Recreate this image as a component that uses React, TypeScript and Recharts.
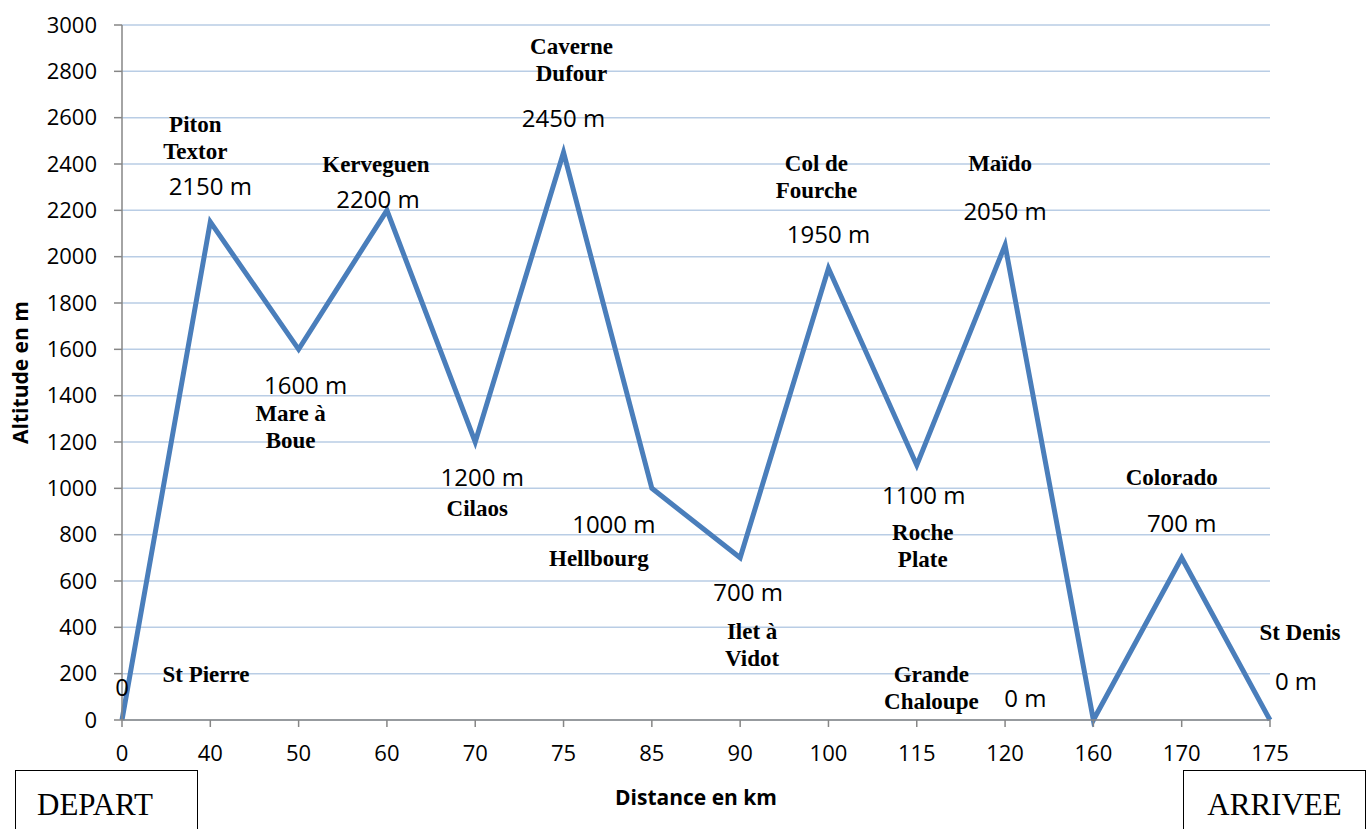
import React from "react";
import {
  LineChart,
  Line,
  XAxis,
  YAxis,
  CartesianGrid,
} from "recharts";

const distances = ["0", "40", "50", "60", "70", "75", "85", "90", "100", "115", "120", "160", "170", "175"];
const altitudes = [0, 2150, 1600, 2200, 1200, 2450, 1000, 700, 1950, 1100, 2050, 0, 700, 0];
const valueTexts = ["0", "2150 m", "1600 m", "2200 m", "1200 m", "2450 m", "1000 m", "700 m", "1950 m", "1100 m", "2050 m", "0 m", "700 m", "0 m"];
const placeNames = [
  ["St Pierre"],
  ["Piton", "Textor"],
  ["Mare à", "Boue"],
  ["Kerveguen"],
  ["Cilaos"],
  ["Caverne", "Dufour"],
  ["Hellbourg"],
  ["Ilet à", "Vidot"],
  ["Col de", "Fourche"],
  ["Roche", "Plate"],
  ["Maïdo"],
  ["Grande", "Chaloupe"],
  ["Colorado"],
  ["St Denis"],
];
const yTicks = [0, 200, 400, 600, 800, 1000, 1200, 1400, 1600, 1800, 2000, 2200, 2400, 2600, 2800, 3000];

// label offsets from each point: [value dx, value dy, name dx, name first line dy]
const labelOffsets = [
  [0, -34, 84, -46],
  [0, -36, -15, -97],
  [7, 35, -8, 64],
  [-9, -12, -11, -46],
  [7, 34, 2, 66],
  [0, -35, 8, -106],
  [-38, 35, -53, 70],
  [8, 34, 12, 74],
  [0, -35, -12, -105],
  [7, 29, 6, 67],
  [0, -35, -5, -82],
  [-68, -23, -162, -46],
  [0, -35, -10, -80],
  [26, -40, 30, -88],
];

const data = distances.map((d, i) => ({ distance: d, altitude: altitudes[i] }));

const sans = "'Open Sans', sans-serif";
const serif = "'Liberation Serif', 'Times New Roman', serif";

const PointLabel = (props: any) => {
  const { x, y, index } = props;
  const [vdx, vdy, ndx, ndy] = labelOffsets[index];
  const names = placeNames[index];
  return (
    <g>
      <text
        x={x + vdx}
        y={y + vdy}
        textAnchor="middle"
        dominantBaseline="central"
        style={{ fontFamily: sans, fontSize: 24, fill: "#000" }}
      >
        {valueTexts[index]}
      </text>
      {names.map((n, k) => (
        <text
          key={k}
          x={x + ndx}
          y={y + ndy + k * 27}
          textAnchor="middle"
          dominantBaseline="central"
          style={{ fontFamily: serif, fontSize: 23, fontWeight: "bold", fill: "#000" }}
        >
          {n}
        </text>
      ))}
    </g>
  );
};

const boxStyle: React.CSSProperties = {
  position: "absolute",
  top: 770,
  width: 183,
  height: 70,
  border: "1px solid #000",
  boxSizing: "border-box",
  fontFamily: serif,
  fontSize: 31,
  lineHeight: "34px",
  paddingTop: 17,
  background: "#fff",
};

export default function App() {
  return (
    <div style={{ position: "fixed", left: 0, top: 0, width: 1369, height: 829, overflow: "hidden", background: "#fff" }}>
      <LineChart width={1369} height={829} data={data} margin={{ top: 25, right: 99, bottom: 0, left: 0 }}>
        <CartesianGrid vertical={false} stroke="#b9cde5" strokeWidth={1.5} />
        <XAxis
          dataKey="distance"
          type="category"
          scale="point"
          height={109}
          stroke="#868686"
          strokeWidth={1.5}
          tickSize={7}
          tickMargin={18}
          tick={{ fontFamily: sans, fontSize: 22, fill: "#000" }}
          label={{
            content: (p: any) => (
              <text
                x={p.viewBox.x + p.viewBox.width / 2}
                y={797}
                textAnchor="middle"
                dominantBaseline="central"
                style={{ fontFamily: sans, fontSize: 21, fontWeight: "bold", fill: "#000" }}
              >
                Distance en km
              </text>
            ),
          }}
        />
        <YAxis
          domain={[0, 3000]}
          ticks={yTicks}
          interval={0}
          width={122}
          stroke="#868686"
          strokeWidth={1.5}
          tickSize={8}
          tickMargin={17}
          tick={{ fontFamily: sans, fontSize: 22, fill: "#000" }}
          label={{
            content: (p: any) => (
              <text
                x={20}
                y={p.viewBox.y + p.viewBox.height / 2}
                textAnchor="middle"
                dominantBaseline="central"
                transform={`rotate(-90, 20, ${p.viewBox.y + p.viewBox.height / 2})`}
                style={{ fontFamily: sans, fontSize: 21, fontWeight: "bold", fill: "#000" }}
              >
                Altitude en m
              </text>
            ),
          }}
        />
        <Line
          type="linear"
          dataKey="altitude"
          stroke="#4a7ebb"
          strokeWidth={5}
          dot={false}
          activeDot={false}
          isAnimationActive={false}
          label={(p: any) => <PointLabel key={p.index} {...p} />}
        />
      </LineChart>
      <div style={{ ...boxStyle, left: 15, paddingLeft: 21 }}>DEPART</div>
      <div style={{ ...boxStyle, left: 1183, textAlign: "center" }}>ARRIVEE</div>
    </div>
  );
}
